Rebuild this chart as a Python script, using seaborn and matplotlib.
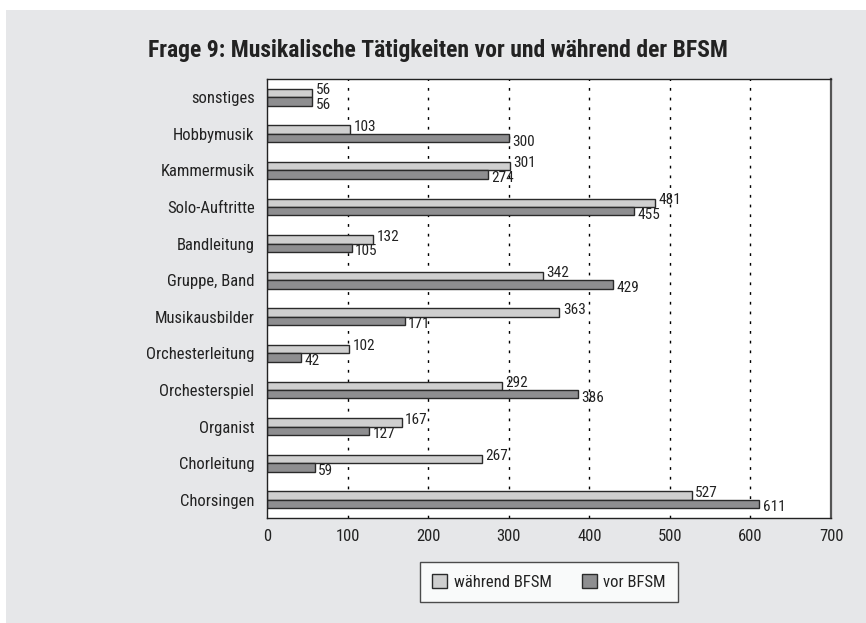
import numpy as np
import pandas as pd
import matplotlib.pyplot as plt
import seaborn as sns

categories = ["sonstiges", "Hobbymusik", "Kammermusik", "Solo-Auftritte", "Bandleitung",
              "Gruppe, Band", "Musikausbilder", "Orchesterleitung", "Orchesterspiel",
              "Organist", "Chorleitung", "Chorsingen"]
waehrend = [56, 103, 301, 481, 132, 342, 363, 102, 292, 167, 267, 527]
vor = [56, 300, 274, 455, 105, 429, 171, 42, 386, 127, 59, 611]
series = ["während BFSM", "vor BFSM"]
x_ticks = [0, 100, 200, 300, 400, 500, 600, 700]

BG = "#e6e7e9"
COLORS = ["#cfcfcf", "#8e8e90"]

df = pd.DataFrame({
    "Kategorie": categories * 2,
    "Anzahl": waehrend + vor,
    "Zeitpunkt": [series[0]] * len(categories) + [series[1]] * len(categories),
})

sns.set_style("white")
plt.rcParams["font.family"] = ["Roboto Condensed", "Liberation Sans", "DejaVu Sans"]

fig = plt.figure(figsize=(8.66, 6.23), dpi=100)
fig.patch.set_facecolor("white")
# grauer Hintergrund
fig.patches.append(plt.Rectangle((6 / 866, 0), 1, 1 - 10 / 623, transform=fig.transFigure,
                                 facecolor=BG, edgecolor="none", zorder=-10))

ax = fig.add_axes([267 / 866, 1 - 518 / 623, (831 - 267) / 866, (518 - 79) / 623])
sns.barplot(data=df, y="Kategorie", x="Anzahl", hue="Zeitpunkt", hue_order=series,
            palette=COLORS, order=categories, width=0.46, orient="h",
            edgecolor="#2a2a2a", linewidth=1.0, saturation=1, ax=ax, legend=True)

ax.set_facecolor("white")
ax.set_xlim(0, 700)
ax.set_ylim(len(categories) - 0.5, -0.5)
ax.set_xticks(x_ticks)
ax.set_xlabel("")
ax.set_ylabel("")
for v in x_ticks[1:-1]:
    ax.axvline(v, color="black", linestyle=(0, (2, 5)), linewidth=1.0, zorder=0)

ax.tick_params(axis="x", direction="out", length=4, width=1, color="#222", labelsize=12,
               labelcolor="#222", pad=4)
ax.tick_params(axis="y", which="major", length=0, labelsize=12, labelcolor="#222", pad=9)
ax.set_yticks(np.arange(-0.5, len(categories)), minor=True)
ax.tick_params(axis="y", which="minor", direction="out", length=4, width=1, color="#222")

for s in ["left", "bottom", "top"]:
    ax.spines[s].set_color("#222")
    ax.spines[s].set_linewidth(1.0)
ax.spines["right"].set_color("#555")
ax.spines["right"].set_linewidth(1.6)

# Werte an den Balken
for ci, cont in enumerate(ax.containers):
    dy = 2 if ci == 0 else -2.5
    for bar in cont:
        w = bar.get_width()
        yc = bar.get_y() + bar.get_height() / 2
        ax.annotate(f"{int(round(w))}", xy=(w, yc), xytext=(2.5, dy), textcoords="offset points",
                    ha="left", va="center", fontsize=11, color="#222")

leg = ax.legend(loc="center", bbox_to_anchor=(0.5, -0.146), ncol=2, frameon=True,
                fancybox=False, edgecolor="#222", fontsize=12, handlelength=0.9,
                handleheight=0.9, handletextpad=0.4, columnspacing=1.8, borderpad=0.75)
leg.get_frame().set_linewidth(1.0)
for t in leg.get_texts():
    t.set_color("#222")

fig.text(438 / 866, 1 - 50 / 623, "Frage 9: Musikalische Tätigkeiten vor und während der BFSM",
         ha="center", va="center", fontsize=17, fontweight="bold", color="#222")

fig.savefig("out.png", dpi=100, facecolor=fig.get_facecolor())
